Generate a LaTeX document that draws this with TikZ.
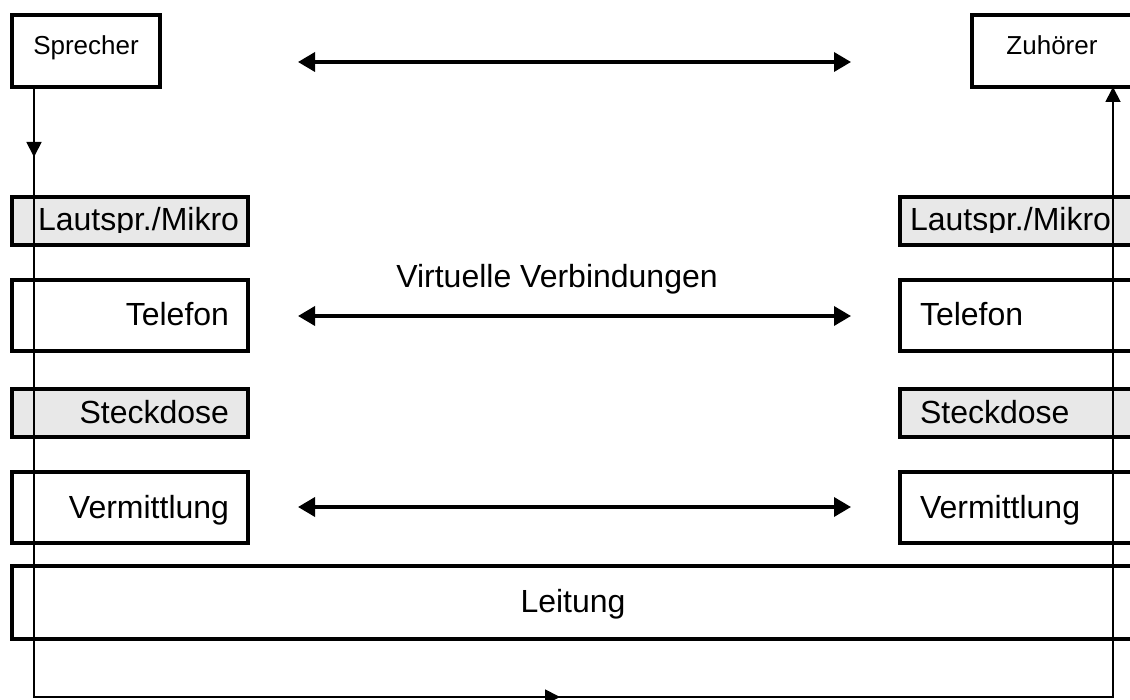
\documentclass[tikz,border=0pt]{standalone}
\usepackage{fontspec}
\setmainfont{Liberation Sans}
\usetikzlibrary{arrows.meta,decorations.markings}
\definecolor{layergray}{HTML}{E8E8E8}

\begin{document}
\begin{tikzpicture}[x=1pt,y=-1pt,
  box/.style={draw,line width=4.5pt,rectangle,inner sep=0pt,outer sep=0pt},
  layer/.style={box,fill=layergray},
  lbl/.style={font=\fontsize{32}{38}\selectfont,inner sep=0pt,outer sep=0pt},
  smalllbl/.style={font=\fontsize{26}{31}\selectfont,inner sep=0pt},
  sigtip/.tip={Triangle[length=15pt,width=15pt]},
  virttip/.tip={Triangle[length=17pt,width=19pt]},
  virt/.style={line width=3.5pt,virttip-virttip},
  sig/.style={line width=1.8pt}]
\useasboundingbox (0,0) rectangle (1130,700);
\clip (0,0) rectangle (1130,700);

% speaker and listener
\node[box,minimum width=148pt,minimum height=72pt] (spk) at (86,51) {};
\node[box,minimum width=168pt,minimum height=72pt] (zuh) at (1056,51) {};
\node[smalllbl,anchor=base] (spkt) at (86,55) {Sprecher};
\node[smalllbl,anchor=base] (zuht) at (1052,55) {Zuhörer};

% protocol layers, left side
\node[layer,minimum width=236pt,minimum height=48pt] (lautL) at (130,221) {};
\node[box,minimum width=236pt,minimum height=71pt] (telL) at (130,315.5) {};
\node[layer,minimum width=236pt,minimum height=48pt] (steckL) at (130,413) {};
\node[box,minimum width=236pt,minimum height=71pt] (vermL) at (130,507.5) {};

% protocol layers, right side
\node[layer,minimum width=240pt,minimum height=48pt] (lautR) at (1020,221) {};
\node[box,minimum width=240pt,minimum height=71pt] (telR) at (1020,315.5) {};
\node[layer,minimum width=240pt,minimum height=48pt] (steckR) at (1020,413) {};
\node[box,minimum width=240pt,minimum height=71pt] (vermR) at (1020,507.5) {};

% physical line
\node[box,minimum width=1128pt,minimum height=73pt] (leit) at (576,602.5) {};

% layer labels
\begin{scope}
  \clip (0,0) rectangle (1130,233);
  \node[lbl,anchor=base west] (lautLt) at (38,231) {Lautspr./Mikro};
  \node[lbl,anchor=base west] (lautRt) at (910,231) {Lautspr./Mikro};
\end{scope}
\node[lbl,anchor=base east] (telLt) at (229,326) {Telefon};
\node[lbl,anchor=base west] (telRt) at (920,326) {Telefon};
\node[lbl,anchor=base east] (steckLt) at (229,424) {Steckdose};
\node[lbl,anchor=base west] (steckRt) at (920,424) {Steckdose};
\node[lbl,anchor=base east] (vermLt) at (229,518) {Vermittlung};
\node[lbl,anchor=base west] (vermRt) at (920,518) {Vermittlung};
\node[lbl,anchor=base] (leitt) at (573,612) {Leitung};
\node[lbl,anchor=base] (virtt) at (557,288) {Virtuelle Verbindungen};

% virtual connections between peer layers
\coordinate (a1) at (298,62);  \coordinate (b1) at (851,62);
\coordinate (a2) at (298,316); \coordinate (b2) at (851,316);
\coordinate (a3) at (298,507); \coordinate (b3) at (851,507);
\draw[virt] (a1) -- (b1);
\draw[virt] (a2) -- (b2);
\draw[virt] (a3) -- (b3);

% actual signal path through all layers
\coordinate (c1) at (34,697);
\coordinate (c2) at (1113,697);
\draw[sig,-sigtip,postaction={decorate},
  decoration={markings,
    mark=at position 70pt with {\arrow{sigtip}},
    mark=at position 1136pt with {\arrow{sigtip}}}]
  (spk.south -| c1) -- (c1) -- (c2) -- (zuh.south -| c2);
\end{tikzpicture}
\end{document}
